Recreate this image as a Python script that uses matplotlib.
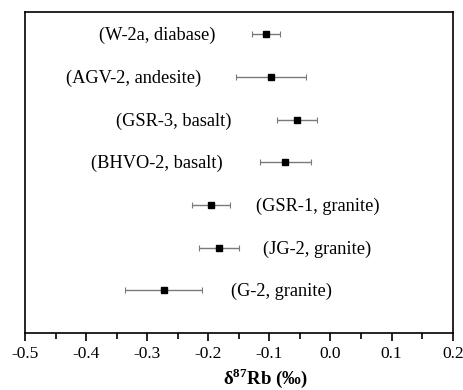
import matplotlib
matplotlib.use("Agg")
import matplotlib.pyplot as plt
from matplotlib.ticker import MultipleLocator

plt.rcParams["font.family"] = ["Liberation Serif", "DejaVu Serif"]
plt.rcParams["mathtext.fontset"] = "custom"
plt.rcParams["mathtext.rm"] = "Liberation Serif"
plt.rcParams["mathtext.bf"] = "Liberation Serif:bold"

# reference materials, top to bottom
samples = ["(W-2a, diabase)", "(AGV-2, andesite)", "(GSR-3, basalt)", "(BHVO-2, basalt)",
           "(GSR-1, granite)", "(JG-2, granite)", "(G-2, granite)"]
delta_rb = [-0.106, -0.097, -0.055, -0.074, -0.196, -0.183, -0.273]
err = [0.023, 0.057, 0.033, 0.042, 0.031, 0.033, 0.063]
label_x = [-0.189, -0.211, -0.162, -0.176, -0.122, -0.110, -0.163]
label_side = ["left", "left", "left", "left", "right", "right", "right"]

ypos = list(range(len(samples), 0, -1))

fig = plt.figure(figsize=(4.64, 3.90), dpi=100)
ax = fig.add_axes([25 / 464, 1 - 333 / 390, 427.7 / 464, 321 / 390])

ax.errorbar(delta_rb, ypos, xerr=err, fmt="none", ecolor="#7a7a7a",
            elinewidth=1.0, capsize=2.5, capthick=0.8, zorder=2)
ax.plot(delta_rb, ypos, "s", color="black", markersize=4.5, zorder=3)

for name, lx, y, side in zip(samples, label_x, ypos, label_side):
    ax.text(lx, y - 0.03, name, fontsize=13.2, ha="right" if side == "left" else "left",
            va="center")

ax.set_xlim(-0.5, 0.2)
ax.set_ylim(0, 7.52)
ax.set_yticks([])
ax.xaxis.set_minor_locator(MultipleLocator(0.05))
ax.set_xticks([-0.5, -0.4, -0.3, -0.2, -0.1, 0.0, 0.1, 0.2])
ax.set_xticklabels(["-0.5", "-0.4", "-0.3", "-0.2", "-0.1", "0.0", "0.1", "0.2"])
ax.tick_params(axis="x", which="major", direction="out", length=6, width=1.2,
               labelsize=12.5, pad=3)
ax.tick_params(axis="x", which="minor", direction="out", length=4, width=1.2)
for sp in ax.spines.values():
    sp.set_linewidth(1.2)

ax.set_xlabel(r"δ$^{\mathbf{87}}$Rb (‰)", fontsize=13.5, fontweight="bold")
ax.xaxis.set_label_coords(0.561, -0.103)

fig.savefig("out.png", dpi=100)
